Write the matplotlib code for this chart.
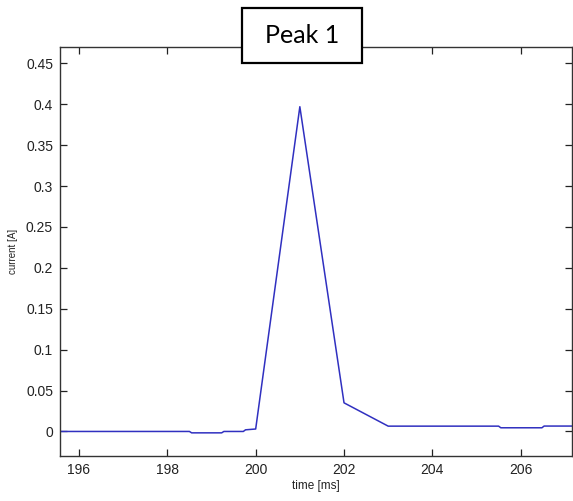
import matplotlib
matplotlib.use("Agg")
import matplotlib.pyplot as plt
from matplotlib.patches import Rectangle

# data (time in ms, current in A)
time_ms = [195.5, 198.5, 198.55, 199.23, 199.28, 199.72, 199.77, 200.0,
           201.0, 202.0, 203.0, 205.5, 205.55, 206.48, 206.53, 207.3]
current_a = [0.0, 0.0, -0.0017, -0.0017, 0.0, 0.0, 0.002, 0.003,
             0.397, 0.035, 0.0065, 0.0065, 0.0045, 0.0045, 0.0066, 0.0066]
x_ticks = [196, 198, 200, 202, 204, 206]
y_ticks = [0, 0.05, 0.1, 0.15, 0.2, 0.25, 0.3, 0.35, 0.4, 0.45]
y_tick_labels = ["0", "0.05", "0.1", "0.15", "0.2", "0.25", "0.3", "0.35", "0.4", "0.45"]
title = "Peak 1"

W, H = 573, 501
fig = plt.figure(figsize=(W / 100, H / 100), dpi=100)
fig.patch.set_facecolor("white")
left, right, top, bottom = 60, 571.5, 47, 456
ax = fig.add_axes([left / W, 1 - bottom / H, (right - left) / W, (bottom - top) / H])

ax.plot(time_ms, current_a, color="#3030c0", linewidth=1.1)
ax.set_xlim(195.57, 207.15)
ax.set_ylim(-0.03, 0.47)
ax.set_xticks(x_ticks)
ax.set_xticklabels([str(t) for t in x_ticks])
ax.set_yticks(y_ticks)
ax.set_yticklabels(y_tick_labels)

font = "Liberation Sans"
ax.tick_params(axis="both", direction="in", length=5, width=0.9, color="#222222",
               top=True, right=True, labelsize=10, labelcolor="#222222", pad=5)
for lbl in ax.get_xticklabels() + ax.get_yticklabels():
    lbl.set_fontfamily(font)
for s in ax.spines.values():
    s.set_linewidth(1.0)
    s.set_color("#333333")

ax.set_xlabel("time [ms]", fontsize=8.5, family=font, color="#222222")
ax.set_ylabel("current [A]", fontsize=7, family=font, color="#222222")
ax.xaxis.label.set_verticalalignment("top")
ax.xaxis.set_label_coords(0.5, -(480 - bottom) / (bottom - top))
ax.yaxis.set_label_coords(-(left - 13) / (right - left), 0.5)
ax.yaxis.label.set_verticalalignment("center")

# title box
bx0, bx1, by0, by1 = 242, 362, 8, 63
rect = Rectangle((bx0 / W, 1 - by1 / H), (bx1 - bx0) / W, (by1 - by0) / H,
                 transform=fig.transFigure, facecolor="white", edgecolor="black",
                 linewidth=1.6, zorder=5)
fig.patches.append(rect)
fig.text((bx0 + bx1) / 2 / W, 1 - (by0 + by1) / 2 / H, title, ha="center", va="center",
         fontsize=18, family="Lato", color="black", zorder=6)

fig.savefig("out.png", dpi=100, facecolor="white")
